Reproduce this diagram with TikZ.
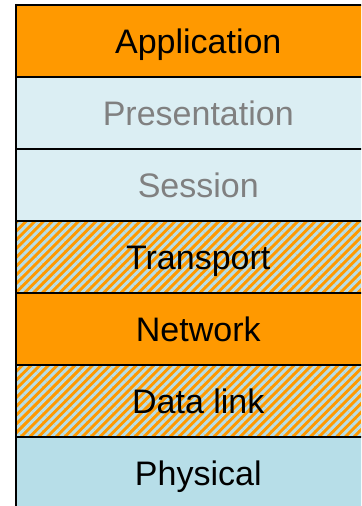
\documentclass[tikz,border=0pt]{standalone}
\usepackage{fontspec}
\setmainfont{Liberation Sans}
\usetikzlibrary{patterns.meta}
\definecolor{orng}{HTML}{FF9900}
\definecolor{palebl}{HTML}{DBEEF3}
\definecolor{physbl}{HTML}{B7DEE8}
\definecolor{greytxt}{HTML}{808080}
\begin{document}
\begin{tikzpicture}[x=0.75pt,y=-0.75pt,
  lbl/.style={font=\fontsize{25.5}{30}\selectfont, text height=18.26pt, text depth=0pt, inner sep=0pt},
  layer/.style={lbl, minimum width=364*0.75pt, minimum height=72*0.75pt, anchor=north west, text=black},
  plain/.style={layer, fill=orng},
  pale/.style={layer, fill=palebl, text=greytxt},
  phys/.style={layer, fill=physbl},
  hatch/.style={layer, fill=orng, postaction={pattern={Lines[angle=45,distance=6.2*0.75pt,line width=3*0.75pt]}, pattern color=physbl}},
  sep/.style={black, line width=2.2*0.75pt}]
\useasboundingbox (0,0) rectangle (361,506);
\begin{scope}
\clip (0,0) rectangle (361,506);
\node[plain] (app) at (16,5) {Application};
\node[pale] (pres) at (16,77) {Presentation};
\node[pale] (sess) at (16,149) {Session};
\node[hatch] (trans) at (16,221) {};
\node[plain] (net) at (16,293) {Network};
\node[hatch] (dl) at (16,365) {};
\node[phys] (phy) at (16,437) {Physical};
\node[lbl] (transtxt) at (trans.center) {Transport};
\node[lbl] (dltxt) at (dl.center) {Data link};
\draw[sep] (app.north west) -- (app.north east);
\draw[sep] (pres.north west) -- (pres.north east);
\draw[sep] (sess.north west) -- (sess.north east);
\draw[sep] (trans.north west) -- (trans.north east);
\draw[sep] (net.north west) -- (net.north east);
\draw[sep] (dl.north west) -- (dl.north east);
\draw[sep] (phy.north west) -- (phy.north east);
\draw[sep] ([yshift=0.8pt]app.north west) -- (phy.south west);
\end{scope}
\end{tikzpicture}
\end{document}
